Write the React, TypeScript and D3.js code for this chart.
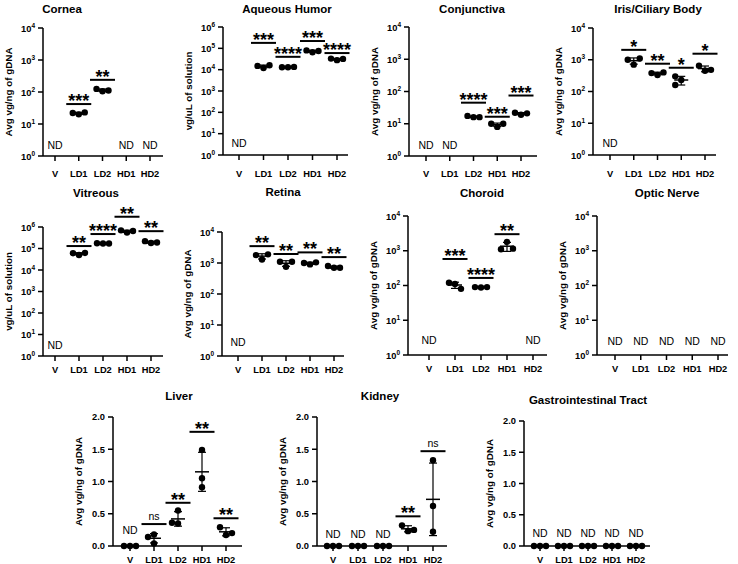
import React from "react";
import * as d3 from "d3";

const FONT = "'Liberation Sans', Arial, Helvetica, sans-serif";
const W = 738, H = 564;

// dose groups shared by every panel
const groups = ["V", "LD1", "LD2", "HD1", "HD2"];

type Pts = number[] | null;

// ---- data (null = not detected) ----
const corneaPoints: Pts[] = [null, [20, 22, 23], [105, 125, 112], null, null];
const corneaSig = [null, 42, 240, null, null];
const corneaStars = ["", "***", "**", "", ""];

const aqueousPoints: Pts[] = [null, [12000, 15000, 16000], [13000, 13000, 13500], [65000, 80000, 75000], [28000, 33000, 32000]];
const aqueousSig = [null, 180000, 40000, 220000, 60000];
const aqueousStars = ["", "***", "****", "***", "****"];

const conjPoints: Pts[] = [null, null, [16, 17.5, 16], [8, 10, 10], [19, 22, 21]];
const conjSig = [null, null, 45, 16.5, 75];
const conjStars = ["", "", "****", "***", "***"];

const irisPoints: Pts[] = [null, [700, 1000, 1100], [330, 380, 400], [230, 300, 160], [450, 650, 480]];
const irisSig = [null, 2050, 750, 560, 1550];
const irisStars = ["", "*", "**", "*", "*"];

const vitreousPoints: Pts[] = [null, [50000, 60000, 62000], [170000, 175000, 170000], [550000, 700000, 650000], [180000, 220000, 190000]];
const vitreousSig = [null, 130000, 470000, 3000000, 640000];
const vitreousStars = ["", "**", "****", "**", "**"];

const retinaPoints: Pts[] = [null, [1300, 1800, 1900], [750, 1100, 1100], [900, 1000, 1050], [700, 800, 700]];
const retinaSig = [null, 3500, 1950, 2200, 1550];
const retinaStars = ["", "**", "**", "**", "**"];

const choroidPoints: Pts[] = [null, [110, 120, 80], [88, 90, 90], [1800, 1100, 1150], null];
const choroidSig = [null, 580, 165, 3000, null];
const choroidStars = ["", "***", "****", "**", ""];

const opticPoints: Pts[] = [null, null, null, null, null];
const opticSig = [null, null, null, null, null];
const opticStars = ["", "", "", "", ""];

const liverPoints: Pts[] = [[0, 0, 0], [0.04, 0.18, 0.14], [0.55, 0.35, 0.36], [1.49, 1.05, 0.91], [0.17, 0.29, 0.2]];
const liverSig = [null, 0.34, 0.67, 1.77, 0.43];
const liverStars = ["", "ns", "**", "**", "**"];

const kidneyPoints: Pts[] = [[0, 0, 0], [0, 0, 0], [0, 0, 0], [0.23, 0.32, 0.25], [1.33, 0.62, 0.22]];
const kidneySig = [null, null, null, 0.46, 1.47];
const kidneyStars = ["", "", "", "**", "ns"];

const giPoints: Pts[] = [[0, 0, 0], [0, 0, 0], [0, 0, 0], [0, 0, 0], [0, 0, 0]];
const giSig = [null, null, null, null, null];
const giStars = ["", "", "", "", ""];

const GDNA = "Avg vg/ng of gDNA";
const SOL = "vg/uL of solution";

// ---- panel layout ----
const panels = [
  { title: "Cornea", tx: 62, ty: 13, label: GDNA, log: true, max: 1e4, ax: 43, x0: 55, x1: 150, xEnd: 163, top: 28, bottom: 156, catDy: 21, ndDy: 7, points: corneaPoints, sig: corneaSig, stars: corneaStars },
  { title: "Aqueous Humor", tx: 287, ty: 13, label: SOL, log: true, max: 1e6, ax: 223, x0: 239, x1: 337, xEnd: 348, top: 27, bottom: 155, catDy: 22, ndDy: 8, points: aqueousPoints, sig: aqueousSig, stars: aqueousStars },
  { title: "Conjunctiva", tx: 472, ty: 13, label: GDNA, log: true, max: 1e4, ax: 409, x0: 426, x1: 521, xEnd: 537, top: 27, bottom: 156, catDy: 21, ndDy: 7, points: conjPoints, sig: conjSig, stars: conjStars },
  { title: "Iris/Ciliary Body", tx: 658, ty: 13, label: GDNA, log: true, max: 1e4, ax: 593, x0: 610, x1: 705, xEnd: 716, top: 28, bottom: 155, catDy: 22, ndDy: 8, points: irisPoints, sig: irisSig, stars: irisStars },
  { title: "Vitreous", tx: 96, ty: 197, label: SOL, log: true, max: 1e6, ax: 43, x0: 55, x1: 151, xEnd: 163, top: 227, bottom: 356, catDy: 17, ndDy: 7, points: vitreousPoints, sig: vitreousSig, stars: vitreousStars },
  { title: "Retina", tx: 283, ty: 196, label: GDNA, log: true, max: 1e4, ax: 222, x0: 238, x1: 334, xEnd: 344, top: 232, bottom: 356, catDy: 17, ndDy: 10, points: retinaPoints, sig: retinaSig, stars: retinaStars },
  { title: "Choroid", tx: 482, ty: 197, label: GDNA, log: true, max: 1e4, ax: 408, x0: 429, x1: 533, xEnd: 547, top: 216, bottom: 355, catDy: 17, ndDy: 11, points: choroidPoints, sig: choroidSig, stars: choroidStars },
  { title: "Optic Nerve", tx: 667, ty: 197, label: GDNA, log: true, max: 1e4, ax: 597, x0: 615, x1: 718, xEnd: 728, top: 216, bottom: 355, catDy: 17, ndDy: 10, points: opticPoints, sig: opticSig, stars: opticStars },
  { title: "Liver", tx: 179, ty: 400, label: GDNA, log: false, max: 2, ax: 113, x0: 130, x1: 226, xEnd: 242, top: 417, bottom: 546, catDy: 17, ndDy: 12, points: liverPoints, sig: liverSig, stars: liverStars },
  { title: "Kidney", tx: 380, ty: 400, label: GDNA, log: false, max: 2, ax: 317, x0: 333, x1: 433, xEnd: 447, top: 417, bottom: 546, catDy: 17, ndDy: 8, points: kidneyPoints, sig: kidneySig, stars: kidneyStars },
  { title: "Gastrointestinal Tract", tx: 588, ty: 404, label: GDNA, log: false, max: 2, ax: 524, x0: 540, x1: 636, xEnd: 650, top: 421, bottom: 546, catDy: 17, ndDy: 9, points: giPoints, sig: giSig, stars: giStars },
];

type P = typeof panels[number];

// spread overlapping dots sideways like a scatter column
function swarm(ys: number[]) {
  const placed: { x: number; y: number }[] = [];
  const offs = [0, -6, 6, -12, 12];
  ys.forEach(y => {
    const o = offs.find(o => placed.every(p => Math.abs(p.x - o) >= 6 || Math.abs(p.y - y) >= 8.5)) ?? 0;
    placed.push({ x: o, y });
  });
  return placed;
}

function Panel({ p }: { p: P }) {
  const y = p.log
    ? d3.scaleLog().domain([1, p.max]).range([p.bottom, p.top])
    : d3.scaleLinear().domain([0, p.max]).range([p.bottom, p.top]);
  const x = d3.scalePoint<string>().domain(groups).range([p.x0, p.x1]);
  const ticks = p.log
    ? d3.range(0, Math.round(Math.log10(p.max)) + 1).map(e => Math.pow(10, e))
    : d3.range(0, p.max + 0.001, 0.5);
  const fmt = d3.format(".1f");
  const midY = (p.top + p.bottom) / 2;

  return (
    <g fontFamily={FONT}>
      <text x={p.tx} y={p.ty} textAnchor="middle" fontSize={11.5} fontWeight="bold">{p.title}</text>
      <text transform={`translate(${p.ax - 31},${midY}) rotate(-90)`} textAnchor="middle" fontSize={9.8} fontWeight="bold">{p.label}</text>

      {/* y axis */}
      <line x1={p.ax} x2={p.ax} y1={p.top} y2={p.bottom} stroke="#000" strokeWidth={1.5} />
      {ticks.map((t, i) => (
        <g key={i}>
          <line x1={p.ax - 5} x2={p.ax} y1={y(t)} y2={y(t)} stroke="#000" strokeWidth={1.5} />
          {p.log ? (
            <text x={p.ax - 8} y={y(t) + 3.5} textAnchor="end" fontSize={9.3} fontWeight="bold">
              10<tspan fontSize={6.5} dy={-4}>{i}</tspan>
            </text>
          ) : (
            <text x={p.ax - 8} y={y(t) + 3.3} textAnchor="end" fontSize={9.3} fontWeight="bold">{fmt(t)}</text>
          )}
        </g>
      ))}

      {/* x axis */}
      <line x1={p.ax} x2={p.xEnd} y1={p.bottom} y2={p.bottom} stroke="#000" strokeWidth={1.5} />
      {groups.map(g => (
        <g key={g}>
          <line x1={x(g)} x2={x(g)} y1={p.bottom} y2={p.bottom + 5} stroke="#000" strokeWidth={1.5} />
          <text x={x(g)} y={p.bottom + p.catDy} textAnchor="middle" fontSize={9.3} fontWeight="bold">{g}</text>
        </g>
      ))}

      {groups.map((g, i) => {
        const cx = x(g)!;
        const pts = p.points[i];
        const nd = !pts || pts.every(v => v === 0);
        const els: React.ReactNode[] = [];
        if (pts) {
          const ys = pts.map(v => y(v));
          swarm(ys).forEach((d, k) => els.push(<circle key={"c" + k} cx={cx + d.x} cy={d.y} r={3.2} fill="#000" />));
          const m = d3.mean(pts)!;
          const sd = d3.deviation(pts) ?? 0;
          if (sd > 0) {
            const lo = y(Math.max(m - sd, p.log ? 1 : 0));
            const hi = y(m + sd);
            els.push(
              <g key="eb" stroke="#000" strokeWidth={1.2}>
                <line x1={cx} x2={cx} y1={lo} y2={hi} />
                <line x1={cx - 4} x2={cx + 4} y1={lo} y2={lo} />
                <line x1={cx - 4} x2={cx + 4} y1={hi} y2={hi} />
                <line x1={cx - 7} x2={cx + 7} y1={y(m)} y2={y(m)} strokeWidth={1.5} />
              </g>
            );
          }
        }
        if (nd) {
          els.push(<text key="nd" x={cx} y={p.bottom - p.ndDy} textAnchor="middle" fontSize={10.5}>ND</text>);
        }
        const s = p.sig[i];
        if (s != null) {
          const sy = y(s);
          els.push(<line key="sl" x1={cx - 12.5} x2={cx + 12.5} y1={sy} y2={sy} stroke="#000" strokeWidth={2} />);
          els.push(
            p.stars[i] === "ns"
              ? <text key="st" x={cx} y={sy - 4} textAnchor="middle" fontSize={10.5}>ns</text>
              : <text key="st" x={cx} y={sy + 3} textAnchor="middle" fontSize={18} fontWeight="bold">{p.stars[i]}</text>
          );
        }
        return <g key={g}>{els}</g>;
      })}
    </g>
  );
}

export default function App() {
  return (
    <svg width={W} height={H} viewBox={`0 0 ${W} ${H}`} style={{ position: "absolute", left: 0, top: 0, background: "#fff" }}>
      <rect width={W} height={H} fill="#fff" />
      {panels.map(p => <Panel key={p.title} p={p} />)}
    </svg>
  );
}
